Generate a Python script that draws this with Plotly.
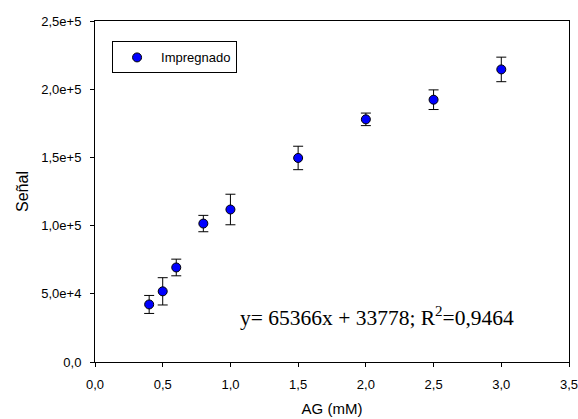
import plotly.graph_objects as go

ag_mM = [0.4, 0.5, 0.6, 0.8, 1.0, 1.5, 2.0, 2.5, 3.0]
senal = [42200, 51800, 69300, 101500, 111800, 149600, 177900, 192300, 214500]
senal_err = [6600, 10000, 6100, 6000, 11200, 8600, 4600, 7200, 9000]

x_tickvals = [0, 0.5, 1.0, 1.5, 2.0, 2.5, 3.0, 3.5]
x_ticktext = ["0,0", "0,5", "1,0", "1,5", "2,0", "2,5", "3,0", "3,5"]
y_tickvals = [0, 50000, 100000, 150000, 200000, 250000]
y_ticktext = ["0,0", "5,0e+4", "1,0e+5", "1,5e+5", "2,0e+5", "2,5e+5"]

equation = "y= 65366x + 33778; R<sup>2</sup>=0,9464"

fig = go.Figure()
fig.add_trace(go.Scatter(
    x=ag_mM, y=senal, mode="markers", name="Impregnado",
    marker=dict(color="#0000ff", size=9, line=dict(color="black", width=1)),
    error_y=dict(type="data", array=senal_err, visible=True,
                 color="black", thickness=1, width=5),
))

fig.add_annotation(
    x=2.08, y=33700, xref="x", yref="y", text=equation, showarrow=False,
    font=dict(family="Liberation Serif, Times New Roman, serif", size=21.5, color="black"),
)

axis_common = dict(
    showline=True, linecolor="black", linewidth=1, mirror=True,
    ticks="outside", ticklen=4, tickcolor="black", tickwidth=1,
    showgrid=False, zeroline=False, automargin=False,
    tickfont=dict(family="Liberation Sans, Arial, sans-serif", size=13, color="black"),
)

fig.update_layout(
    width=578, height=419,
    margin=dict(l=95, r=9, t=21, b=57),
    paper_bgcolor="white", plot_bgcolor="white",
    font=dict(family="Liberation Sans, Arial, sans-serif", color="black"),
    showlegend=True,
    legend=dict(
        x=0.036, y=0.94, xanchor="left", yanchor="top",
        bordercolor="black", borderwidth=1, bgcolor="white",
        itemwidth=38,
        font=dict(family="Liberation Sans, Arial, sans-serif", size=13, color="black"),
    ),
    xaxis=dict(range=[0, 3.5], tickvals=x_tickvals, ticktext=x_ticktext,
               ticklabelstandoff=6, ticklabeloverflow="allow",
               title=dict(text="AG (mM)", font=dict(size=15), standoff=12), **axis_common),
    yaxis=dict(range=[0, 250000], tickvals=y_tickvals, ticktext=y_ticktext,
               ticklabelstandoff=6,
               title=dict(text="Señal", font=dict(size=16), standoff=8), **axis_common),
)

fig.write_html(
    "out.html",
    config={"displayModeBar": False},
    post_script="document.body.style.margin='0';document.body.style.overflow='hidden';",
)
